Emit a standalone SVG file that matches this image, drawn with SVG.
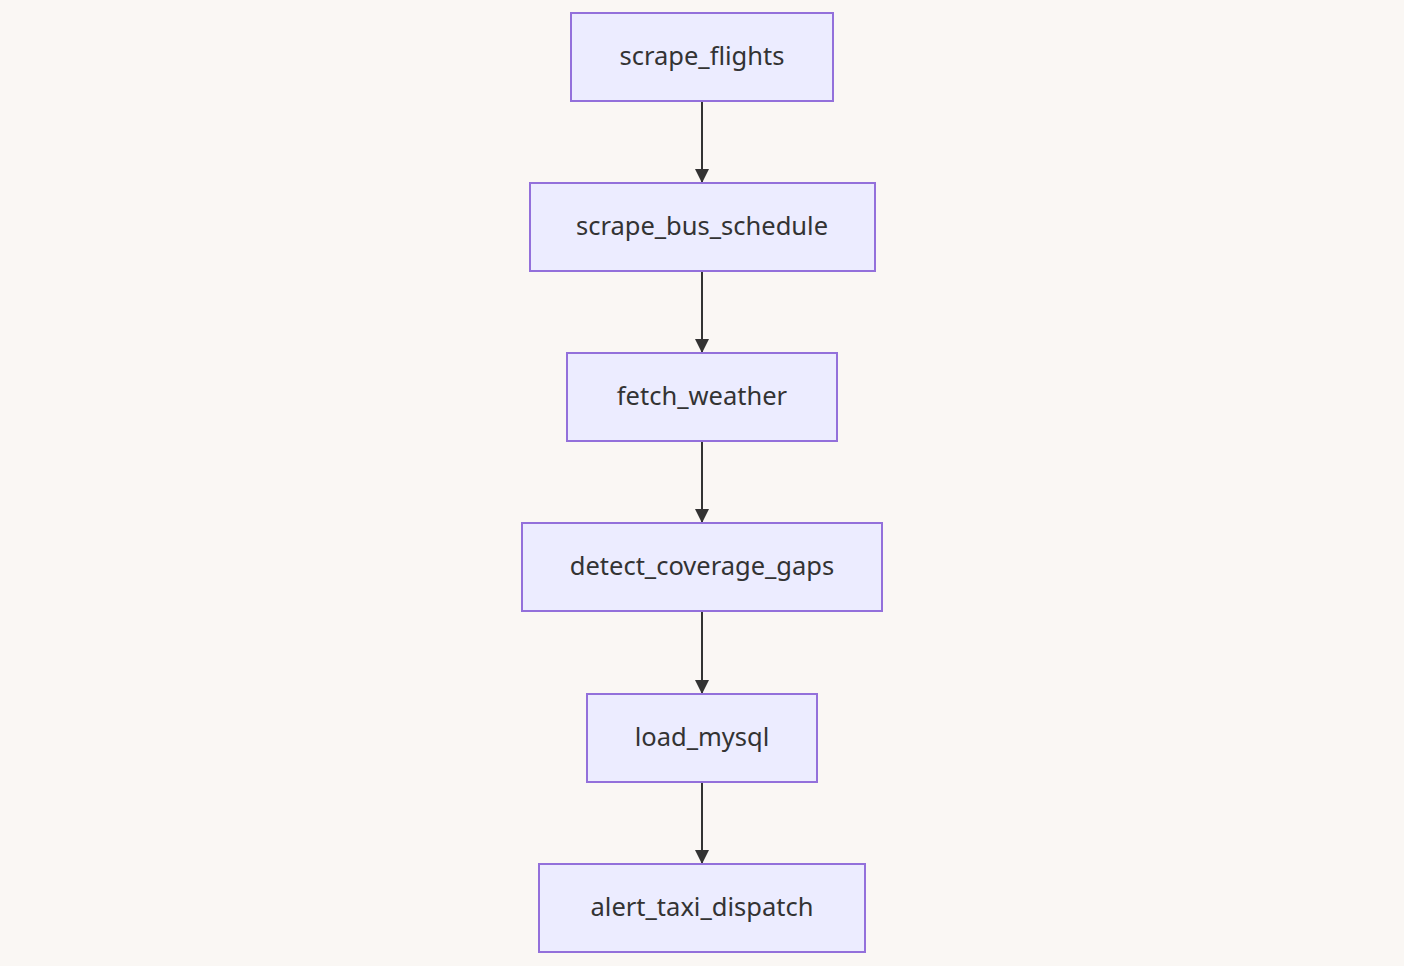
<svg xmlns="http://www.w3.org/2000/svg" width="1404" height="966" viewBox="0 0 1404 966">
<style>
.n rect{fill:#ECECFF;stroke:#9370DB;stroke-width:2}
.n text{font-family:"Noto Sans","DejaVu Sans",sans-serif;font-size:25.5px;fill:#333;text-anchor:middle;dominant-baseline:central}
.e line{stroke:#333;stroke-width:2;marker-end:url(#ah)}
</style>
<defs>
<marker id="ah" viewBox="0 0 10 10" refX="10" refY="5" markerUnits="userSpaceOnUse" markerWidth="14" markerHeight="14" orient="auto">
<path d="M0,0 L10,5 L0,10 z" fill="#333"/>
</marker>
</defs>
<rect width="1404" height="966" fill="#FAF7F4"/>
<g class="e">
<line x1="702" y1="101" x2="702" y2="183"/>
<line x1="702" y1="271" x2="702" y2="353"/>
<line x1="702" y1="441" x2="702" y2="523"/>
<line x1="702" y1="611" x2="702" y2="694"/>
<line x1="702" y1="782" x2="702" y2="864"/>
</g>
<g id="scrape_flights" class="n"><rect x="571" y="13" width="262" height="88"/><text x="702" y="55">scrape_flights</text></g>
<g id="scrape_bus_schedule" class="n"><rect x="530" y="183" width="345" height="88"/><text x="702" y="225">scrape_bus_schedule</text></g>
<g id="fetch_weather" class="n"><rect x="567" y="353" width="270" height="88"/><text x="702" y="395">fetch_weather</text></g>
<g id="detect_coverage_gaps" class="n"><rect x="522" y="523" width="360" height="88"/><text x="702" y="565">detect_coverage_gaps</text></g>
<g id="load_mysql" class="n"><rect x="587" y="694" width="230" height="88"/><text x="702" y="736">load_mysql</text></g>
<g id="alert_taxi_dispatch" class="n"><rect x="539" y="864" width="326" height="88"/><text x="702" y="906">alert_taxi_dispatch</text></g>
</svg>
